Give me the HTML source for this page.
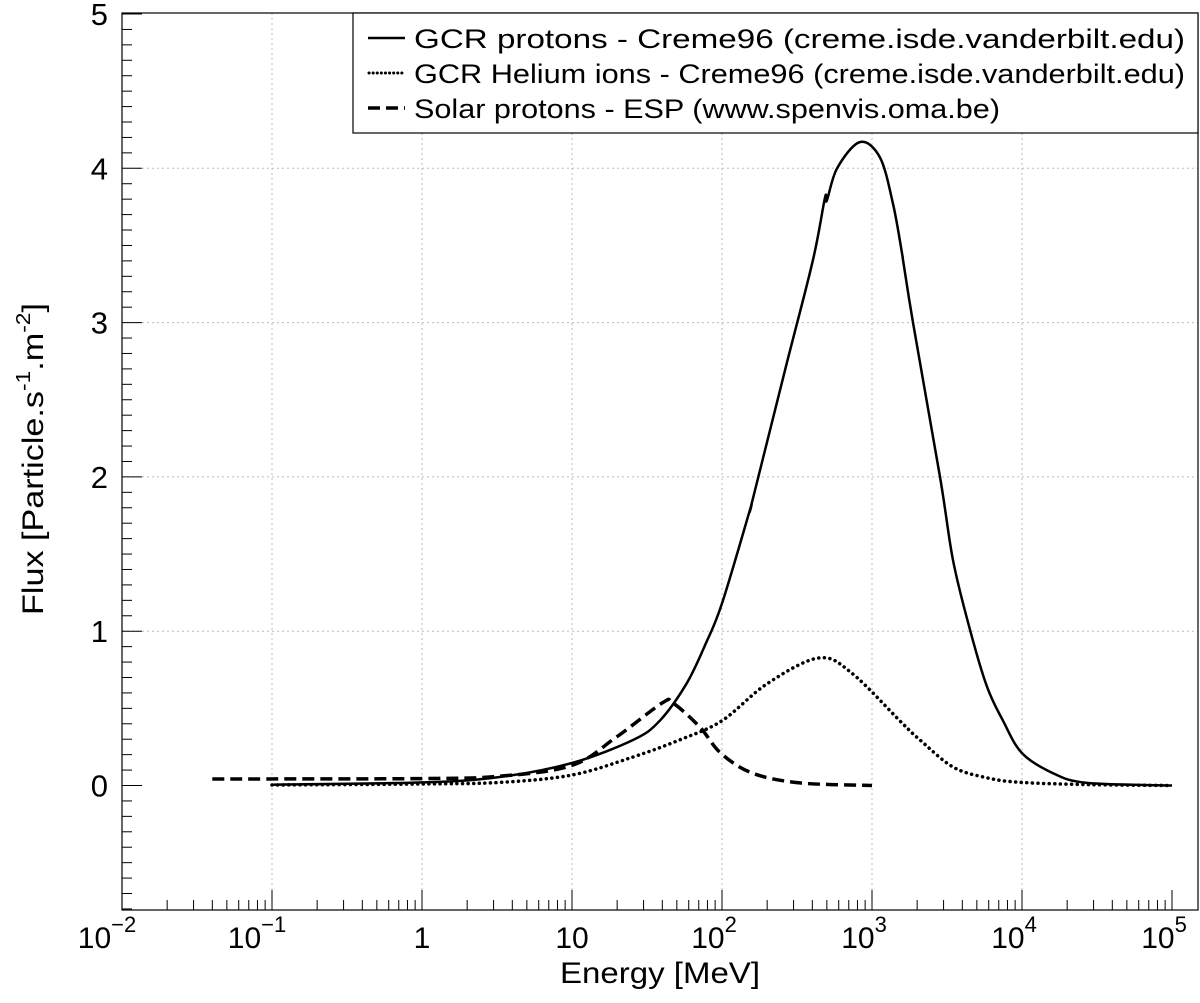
<!DOCTYPE html>
<html><head><meta charset="utf-8"><style>
html,body{margin:0;padding:0;background:#fff;}
svg{display:block;font-family:"Liberation Sans",sans-serif;}
</style></head><body>
<svg id="chart" width="1200" height="1003" viewBox="0 0 1200 1003" xmlns="http://www.w3.org/2000/svg">
<g id="grid"></g>
<g id="axes"></g>
<g id="series"></g>
<rect x="122" y="13" width="1076" height="897" fill="none" stroke="#000" stroke-width="1.2"/>
<text x="560" y="983" font-size="30" textLength="200" lengthAdjust="spacingAndGlyphs">Energy [MeV]</text>
<text transform="translate(43,615) rotate(-90)" font-size="30" textLength="312" lengthAdjust="spacingAndGlyphs">Flux [Particle.s<tspan font-size="20" dy="-13">-1</tspan><tspan dy="13">.m</tspan><tspan font-size="20" dy="-13">-2</tspan><tspan dy="13">]</tspan></text>
<g>
<rect x="353" y="13" width="845" height="120" fill="#fff" stroke="#000" stroke-width="1.2"/>
<line x1="368" y1="38" x2="405" y2="38" stroke="#000" stroke-width="2.5"/>
<text x="414" y="48" font-size="27" textLength="771" lengthAdjust="spacingAndGlyphs">GCR protons - Creme96 (creme.isde.vanderbilt.edu)</text>
<line x1="369" y1="73" x2="405" y2="73" stroke="#000" stroke-width="3" stroke-dasharray="0.1 4" stroke-linecap="round"/>
<text x="414" y="83" font-size="27" textLength="771" lengthAdjust="spacingAndGlyphs">GCR Helium ions - Creme96 (creme.isde.vanderbilt.edu)</text>
<line x1="368" y1="108" x2="405" y2="108" stroke="#000" stroke-width="3.5" stroke-dasharray="12 6"/>
<text x="414" y="118" font-size="27" textLength="586" lengthAdjust="spacingAndGlyphs">Solar protons - ESP (www.spenvis.oma.be)</text>
</g>
</svg>
<script>
const protonE = [0.1,1,3.3,10,25.5,38.5,58,78,100,154,158,271,405,486,500,585,830,1130,1380,1585,1620,1875,2840,3470,4500,5840,7470,10000,16100,27100,100000];
const protonV = [0.005,0.02,0.055,0.146,0.295,0.42,0.66,0.92,1.18,1.79,1.83,2.74,3.41,3.81,3.79,4.0,4.17,4.07,3.77,3.45,3.39,3.0,2.0,1.46,1.01,0.64,0.42,0.21,0.08,0.017,0.0];
const heliumE = [0.1,1,3.3,10,25.5,52,100,200,440,730,1585,2090,3470,5840,10000,30000,100000];
const heliumV = [0.003,0.01,0.02,0.068,0.185,0.295,0.42,0.66,0.826,0.73,0.405,0.295,0.12,0.05,0.02,0.005,0.0];
const solarE = [0.04,1,3.3,10,19.5,40,47,71,98,160,330,1000];
const solarV = [0.042,0.045,0.06,0.13,0.31,0.535,0.535,0.38,0.21,0.08,0.017,0.0];
const yTicks = [0,1,2,3,4,5];
const xDecades = [-2,-1,0,1,2,3,4,5];
const xTickLabels = [["10","\u22122"],["10","\u22121"],["1",""],["10",""],["10","2"],["10","3"],["10","4"],["10","5"]];

const NS="http://www.w3.org/2000/svg";
const X0=122, DEC=150, Y0=785.5, YU=154.3, LEFT=122, RIGHT=1198, TOP=13, BOT=910;
function xs(e){return X0+(Math.log10(e)+2)*DEC;}
function xl(l){return X0+(l+2)*DEC;}
function ys(v){return Y0-v*YU;}
function mk(tag,attrs,parent){const el=document.createElementNS(NS,tag);for(const k in attrs)el.setAttribute(k,attrs[k]);parent.appendChild(el);return el;}
const grid=document.getElementById('grid'), axes=document.getElementById('axes'), series=document.getElementById('series');

xDecades.forEach((d,i)=>{
  const x=xl(d);
  if(i>0&&i<xDecades.length-1){
    const g=mk('line',{x1:x,y1:TOP,x2:x,y2:BOT,stroke:'#bbb','stroke-width':1,'stroke-dasharray':'2 3'},grid);
    
    
  }
  const t=mk('line',{x1:x,y1:BOT,x2:x,y2:BOT-20,stroke:'#000','stroke-width':1},axes);
  
  
  for(let m=2;m<=9;m++){
    const xm=xl(d+Math.log10(m));
    if(xm>RIGHT||d===5)continue;
    const mt=mk('line',{x1:xm,y1:BOT,x2:xm,y2:BOT-10,stroke:'#000','stroke-width':1},axes);
    
    
  }
  const lab=xTickLabels[i];
  const tx=mk('text',{x:x,y:948,'font-size':30,'text-anchor':'middle'},axes);
  
  
  tx.textContent=lab[0];
  if(lab[1]){
    tx.setAttribute('x',x-(lab[1].length>1?15:8));
    const sp=mk('tspan',{'font-size':22,dy:-16},tx);
    sp.textContent=lab[1];
  }
});

yTicks.forEach(v=>{
  const y=ys(v);
  if(v>0&&v<5){
    const g=mk('line',{x1:LEFT,y1:y,x2:RIGHT,y2:y,stroke:'#bbb','stroke-width':1,'stroke-dasharray':'2 3'},grid);
    
    
  }
  const tx=mk('text',{x:108,y:y+11,'font-size':31,'text-anchor':'end'},axes);
  
  
  tx.textContent=String(v);
});
for(let k=-8;k<=50;k++){
  const y=ys(k/10); if(y>BOT||y<TOP)continue;
  const len=(k%10===0)?20:10;
  const t=mk('line',{x1:LEFT,y1:y,x2:LEFT+len,y2:y,stroke:'#000','stroke-width':1},axes);
  
  
}

function path(E,V){
  const pts=E.map((e,i)=>[xs(e),ys(V[i])]);
  let d='M'+pts[0][0].toFixed(1)+','+pts[0][1].toFixed(1);
  for(let i=0;i<pts.length-1;i++){
    const p0=pts[i-1]||pts[i],p1=pts[i],p2=pts[i+1],p3=pts[i+2]||p2;
    const c1=[p1[0]+(p2[0]-p0[0])/6,p1[1]+(p2[1]-p0[1])/6];
    const c2=[p2[0]-(p3[0]-p1[0])/6,p2[1]-(p3[1]-p1[1])/6];
    d+=' C'+c1.map(n=>n.toFixed(1)).join(',')+' '+c2.map(n=>n.toFixed(1)).join(',')+' '+p2[0].toFixed(1)+','+p2[1].toFixed(1);
  }
  return d;
}
const sp=mk('path',{d:path(solarE,solarV),fill:'none',stroke:'#000','stroke-width':3.5,'stroke-dasharray':'12 6'},series);


const hl=mk('path',{d:path(heliumE,heliumV),fill:'none',stroke:'#000','stroke-width':3.5,'stroke-dasharray':'0.1 5.5','stroke-linecap':'round'},series);


const pl=mk('path',{d:path(protonE,protonV),fill:'none',stroke:'#000','stroke-width':2.5},series);


</script>
</body></html>
